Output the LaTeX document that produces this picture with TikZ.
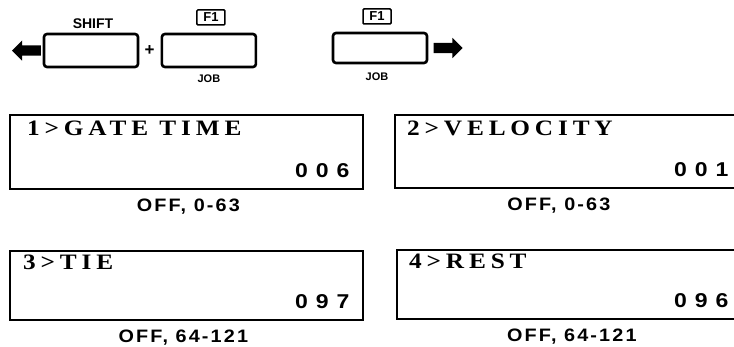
\documentclass[tikz,border=0pt]{standalone}
\usepackage{fontspec}
\setmainfont{Liberation Serif}
\setsansfont{Liberation Sans}
\newfontfamily\lcdfont[FakeStretch=1.15, LetterSpace=22]{Liberation Serif}
\newfontfamily\lcdnum[FakeStretch=1.15, LetterSpace=40]{Liberation Sans}
\newfontfamily\rngfont[FakeStretch=1.1, LetterSpace=12]{Liberation Sans}
\usetikzlibrary{positioning, shapes.arrows}

\begin{document}
\begin{tikzpicture}[x=1pt, y=-1pt,
        keybox/.style={draw, line width=2.6pt, rounded corners=3pt, minimum width=94pt, minimum height=33pt, inner sep=0pt},
        fkey/.style={draw, line width=1.5pt, rounded corners=1pt, minimum width=28pt, minimum height=15pt,
            inner sep=0pt, font=\sffamily\bfseries\fontsize{13}{13}\selectfont},
        keylbl/.style={inner sep=0pt, font=\sffamily\bfseries\fontsize{14}{14}\selectfont},
        joblbl/.style={inner sep=0pt, font=\sffamily\bfseries\fontsize{11}{11}\selectfont},
        blk/.style={single arrow, fill, draw=none, inner sep=0pt, text height=5pt, text depth=5pt,
            single arrow head extend=5pt, minimum height=29pt},
        disp/.style={draw, line width=1.7pt, anchor=north west, inner sep=0pt},
        lcdtxt/.style={inner sep=0pt, anchor=base west, font=\lcdfont\bfseries\fontsize{22}{22}\selectfont},
        lcdval/.style={inner sep=0pt, anchor=base east, font=\lcdnum\bfseries\fontsize{20}{20}\selectfont},
        rng/.style={inner sep=0pt, font=\rngfont\bfseries\fontsize{18}{18}\selectfont}
    ]
        \useasboundingbox (0,0) rectangle (734,346);
        \clip (0,0) rectangle (734,346);

        % keys
        \node[keybox] (shiftkey) at (91,50.5) {};
        \node[keylbl, above=4pt of shiftkey, xshift=2pt] (shiftlbl) {SHIFT};
        \node[blk, shape border rotate=180, left=1.5pt of shiftkey] (larr) {};
        \node[inner sep=0pt, right=5pt of shiftkey, font=\sffamily\bfseries\fontsize{17}{17}\selectfont] (plus) {+};
        \node[keybox, right=6pt of plus] (jobkey) {};
        \node[fkey, above=7pt of jobkey, xshift=2pt] (jobf) {F1};
        \node[joblbl, below=6pt of jobkey] (joblbl) {JOB};

        \node[keybox, minimum height=30pt] (nextkey) at (380,48) {};
        \node[fkey, above=7pt of nextkey, xshift=-3pt] (nextf) {F1};
        \node[joblbl, below=8pt of nextkey, xshift=-3pt] (nextlbl) {JOB};
        \node[blk, right=5pt of nextkey] (rarr) {};

        % displays
        \node[disp, minimum width=353pt, minimum height=74pt] (d1) at (9,114) {};
        \node[lcdtxt] (d1t) at ([shift={(18,21)}]d1.north west) {1>GATE TIME};
        \node[lcdval] (d1v) at ([shift={(-14,-12)}]d1.south east) {006};
        \node[rng, below=9pt of d1, xshift=2pt] (d1r) {OFF, 0-63};

        \node[disp, minimum width=346pt, minimum height=73pt] (d2) at (394,114) {};
        \node[lcdtxt] (d2t) at ([shift={(13,21)}]d2.north west) {2>VELOCITY};
        \node[lcdval] (d2v) at ([shift={(-13,-12)}]d2.south east) {001};
        \node[rng, below=9pt of d2, xshift=-9pt] (d2r) {OFF, 0-63};

        \node[disp, minimum width=353pt, minimum height=69pt] (d3) at (9,250) {};
        \node[lcdtxt] (d3t) at ([shift={(14,19)}]d3.north west) {3>TIE};
        \node[lcdval] (d3v) at ([shift={(-14,-12)}]d3.south east) {097};
        \node[rng, below=9pt of d3, xshift=-3pt] (d3r) {OFF, 64-121};

        \node[disp, minimum width=344pt, minimum height=69pt] (d4) at (396,249) {};
        \node[lcdtxt] (d4t) at ([shift={(13,19)}]d4.north west) {4>REST};
        \node[lcdval] (d4v) at ([shift={(-13,-12)}]d4.south east) {096};
        \node[rng, below=9pt of d4, xshift=3pt] (d4r) {OFF, 64-121};
    \end{tikzpicture}
\end{document}
